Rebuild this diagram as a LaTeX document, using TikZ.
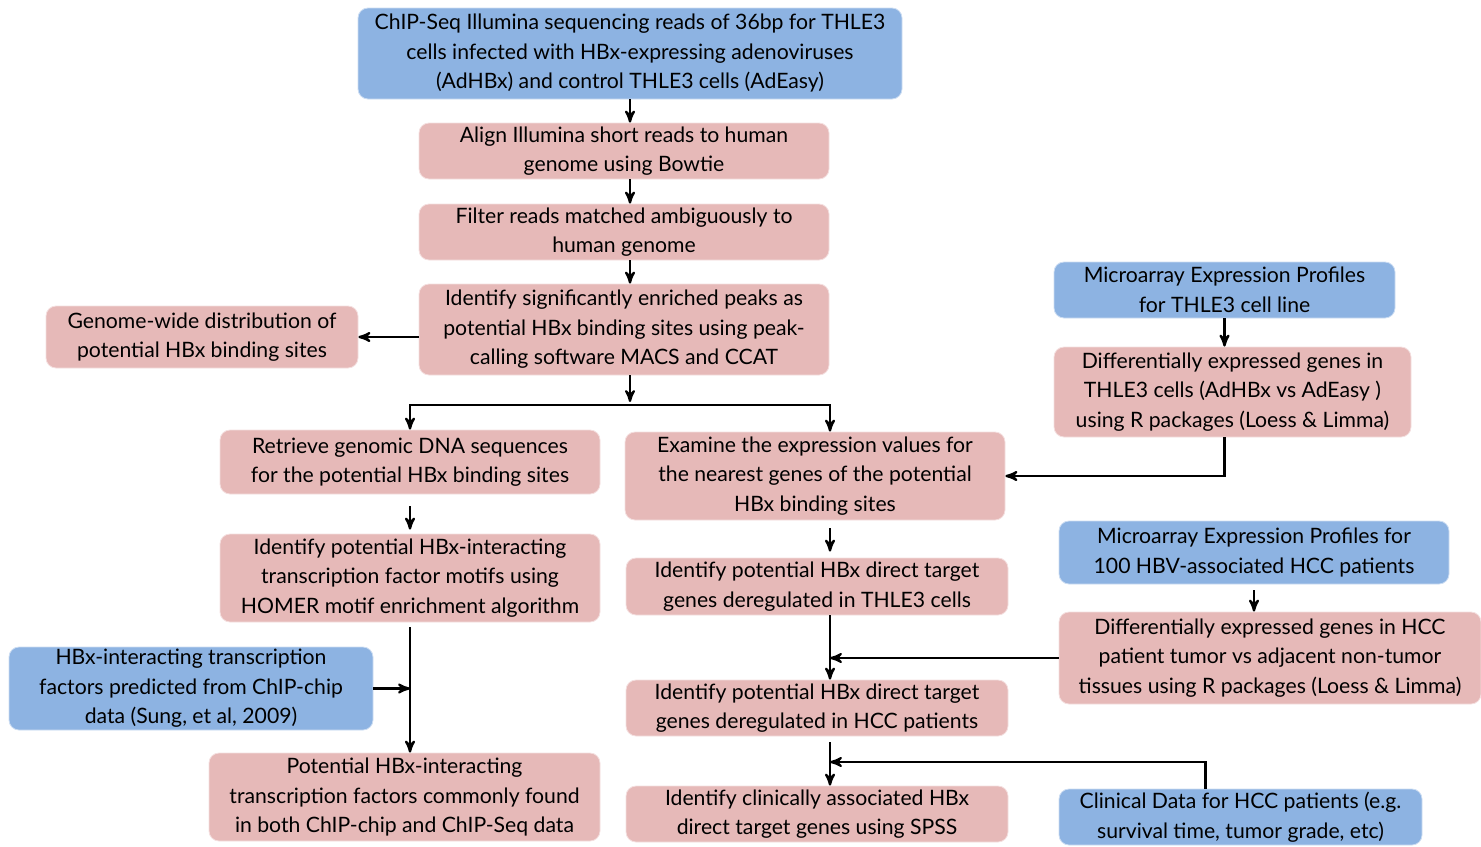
\documentclass[tikz,border=0pt]{standalone}
\usepackage{fontspec}
\setmainfont{Lato}
\usepackage{tikz}
\usetikzlibrary{
  arrows,
  chains,
  positioning,
  scopes
}
\definecolor{boxblue}{HTML}{8DB3E2}
\definecolor{boxpink}{HTML}{E6B9B8}

\begin{document}
\begin{tikzpicture}[
      x=0.5pt,y=-0.5pt,
      process/.style={
         rectangle,
         rounded corners=5pt,
         draw=white!55!boxpink,
         fill=boxpink,
         align=center,
         inner sep=0pt,
         font=\fontsize{10.6}{14.75}\selectfont,
         %text height=1.5ex,
         %text depth=.25ex
      },
      source/.style={
         process,
         draw=white!55!boxblue,
         fill=boxblue
      },
      box size/.style 2 args={minimum width=#1*0.5pt, minimum height=#2*0.5pt},
      >=stealth',
      tip/.style={->,line width=1.1pt,shorten >=0.007pt},
      every join/.style={rounded corners=0pt}
    ]
    \useasboundingbox (0,0) rectangle (1481,846);
    % main ChIP-Seq column
    \node (chipseq) [source, box size={544}{91}] at (630,53.5) {ChIP-Seq Illumina sequencing reads of 36bp for THLE3\\cells infected with HBx-expressing adenoviruses\\(AdHBx) and control THLE3 cells (AdEasy)};
    \node (align) [process, box size={410}{56}] at (624,151) {Align Illumina short reads to human\\genome using Bowtie};
    \node (filter) [process, box size={410}{56}] at (624,232) {Filter reads matched ambiguously to\\human genome};
    \node (peaks) [process, box size={410}{91}] at (624,329.5) {Identify significantly enriched peaks as\\potential HBx binding sites using peak-\\calling software MACS and CCAT};
    \node (genome) [process, box size={312}{62}] at (202,337) {Genome-wide distribution of\\potential HBx binding sites};
    % cell line arrays
    \node (arrayline) [source, box size={341}{56}] at (1224.5,290) {Microarray Expression Profiles\\for THLE3 cell line};
    \node (degline) [process, box size={357}{90}] at (1232.5,392) {Differentially expressed genes in\\THLE3 cells (AdHBx vs AdEasy )\\using R packages (Loess \& Limma)};
    % motif branch
    \node (retrieve) [process, box size={380}{64}] at (410,462) {Retrieve genomic DNA sequences\\for the potential HBx binding sites};
    \node (motifs) [process, box size={380}{88}] at (410,578) {Identify potential HBx-interacting\\transcription factor motifs using\\HOMER motif enrichment algorithm};
    \node (chipchip) [source, box size={364}{83}] at (191,688.5) {HBx-interacting transcription\\factors predicted from ChIP-chip\\data (Sung, et al, 2009)};
    \node (common) [process, box size={391}{88}] at (404.5,797) {Potential HBx-interacting\\transcription factors commonly found\\in both ChIP-chip and ChIP-Seq data};
    % target gene branch
    \node (examine) [process, box size={380}{88}] at (815,476) {Examine the expression values for\\the nearest genes of the potential\\HBx binding sites};
    \node (targetline) [process, box size={382}{57}] at (817,586.5) {Identify potential HBx direct target\\genes deregulated in THLE3 cells};
    \node (targethcc) [process, box size={382}{56}] at (817,708) {Identify potential HBx direct target\\genes deregulated in HCC patients};
    \node (clinassoc) [process, box size={382}{56}] at (817,814) {Identify clinically associated HBx\\direct target genes using SPSS};
    % patient data
    \node (arrayhcc) [source, box size={390}{63}] at (1254,552.5) {Microarray Expression Profiles for\\100 HBV-associated HCC patients};
    \node (deghcc) [process, box size={422}{92}] at (1270,658) {Differentially expressed genes in HCC\\patient tumor vs adjacent non-tumor\\tissues using R packages (Loess \& Limma)};
    \node (clindata) [source, box size={363}{56}] at (1240.5,817) {Clinical Data for HCC patients (e.g.\\survival time, tumor grade, etc)};

    \coordinate (split) at (630,405);
    \coordinate (midcol) at (830,0);
    \coordinate (merge) at (830,762);

    \draw[tip] (chipseq.south -| split) -- (align.north -| split);
    \draw[tip] (align.south -| split) -- (filter.north -| split);
    \draw[tip] (filter.south -| split) -- (peaks.north -| split);
    \draw[tip, shorten >=1.5pt] (peaks.south -| split) -- (split);
    \draw[tip] (peaks.west |- genome.east) -- (genome.east);
    \draw[tip] (split) -| (retrieve.north);
    \draw[tip] (split) -| (examine.north -| midcol);
  { [start chain]
       \chainin (retrieve);
       \chainin (motifs)    [join=by {tip, shorten <=6pt, shorten >=2pt}];
  }
    \draw[tip, shorten <=2.5pt] (motifs.south) -- (motifs.south |- common.north);
    \draw[tip] (chipchip.east) -- (chipchip.east -| motifs.south);
    \draw[tip] (arrayline.south) -- (arrayline.south |- degline.north);
    \draw[tip] (degline.south -| arrayline) |- (examine.east);
    \draw[tip, shorten <=4pt, shorten >=3pt] (examine.south -| midcol) -- (targetline.north -| midcol);
    \draw[tip] (targetline.south -| midcol) -- (targethcc.north -| midcol);
    \draw[tip, shorten <=3pt] (arrayhcc.south) -- (arrayhcc.south |- deghcc.north);
    \draw[tip] (deghcc.west) -- (deghcc.west -| midcol);
    \draw[tip, shorten <=3pt] (targethcc.south -| midcol) -- (clinassoc.north -| midcol);
    \draw[tip] ([xshift=-17.5pt]clindata.north) |- (merge);
\end{tikzpicture}
\end{document}
